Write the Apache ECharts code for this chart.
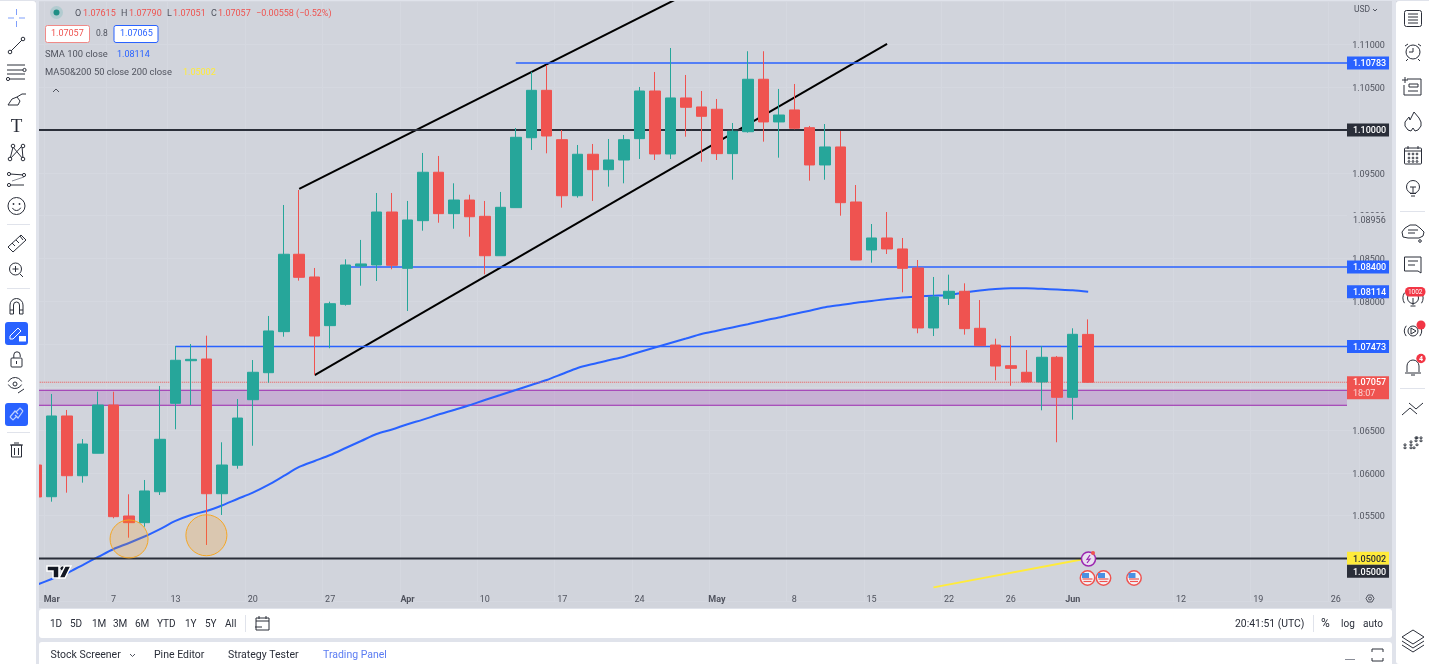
<!DOCTYPE html>
<html>
<head>
<meta charset="utf-8">
<title>EUR/USD</title>
<style>
html, body { margin: 0; padding: 0; background: #d1d4dc; overflow: hidden; }
#chart { width: 1429px; height: 664px; }
</style>
<script src="https://cdn.jsdelivr.net/npm/echarts@6/dist/echarts.min.js"></script>
</head>
<body>
<div id="chart"></div>
<script>
// trading days, one per band of the category axis
var dates = ['02-28',
    '03-01', '03-02', '03-03', '03-06', '03-07', '03-08', '03-09', '03-10', '03-13', '03-14',
    '03-15', '03-16', '03-17', '03-20', '03-21', '03-22', '03-23', '03-24', '03-27', '03-28',
    '03-29', '03-30', '03-31', '04-03', '04-04', '04-05', '04-06', '04-07', '04-10', '04-11',
    '04-12', '04-13', '04-14', '04-17', '04-18', '04-19', '04-20', '04-21', '04-24', '04-25',
    '04-26', '04-27', '04-28', '05-01', '05-02', '05-03', '05-04', '05-05', '05-08', '05-09',
    '05-10', '05-11', '05-12', '05-15', '05-16', '05-17', '05-18', '05-19', '05-22', '05-23',
    '05-24', '05-25', '05-26', '05-29', '05-30', '05-31', '06-01', '06-02', '06-05', '06-06',
    '06-07', '06-08', '06-09', '06-12', '06-13', '06-14', '06-15', '06-16', '06-19', '06-20',
    '06-21', '06-22', '06-23', '06-26', '06-27'];

var dayLabels = {
    '03-01': 'Mar', '03-07': '7', '03-13': '13', '03-20': '20', '03-27': '27', '04-03': 'Apr',
    '04-10': '10', '04-17': '17', '04-24': '24', '05-01': 'May', '05-08': '8', '05-15': '15',
    '05-22': '22', '05-26': '26', '06-01': 'Jun', '06-12': '12', '06-19': '19', '06-26': '26'
};

// open, close, low, high
var candles = [
    [1.06091, 1.05718, 1.05683, 1.06149],
    [1.05721, 1.06663, 1.05663, 1.06920], [1.06663, 1.05966, 1.05768, 1.06733],
    [1.05966, 1.06336, 1.05885, 1.06394], [1.06228, 1.06791, 1.06228, 1.06946],
    [1.06791, 1.05488, 1.05469, 1.06946], [1.05496, 1.05418, 1.05243, 1.05749],
    [1.05418, 1.05788, 1.05371, 1.05916], [1.05779, 1.06391, 1.05741, 1.07013],
    [1.06811, 1.07313, 1.06508, 1.07480], [1.07308, 1.07324, 1.06791, 1.07503],
    [1.07328, 1.05756, 1.05158, 1.07600], [1.05756, 1.06091, 1.05508, 1.06356],
    [1.06088, 1.06639, 1.06048, 1.06861], [1.06853, 1.07173, 1.06316, 1.07316],
    [1.07168, 1.07655, 1.07051, 1.07830], [1.07647, 1.08550, 1.07588, 1.09125],
    [1.08550, 1.08281, 1.08242, 1.09300], [1.08285, 1.07596, 1.07141, 1.08390],
    [1.07717, 1.07973, 1.07453, 1.07997], [1.07966, 1.08425, 1.07950, 1.08491],
    [1.08413, 1.08437, 1.08183, 1.08717], [1.08425, 1.09043, 1.08238, 1.09265],
    [1.09043, 1.08421, 1.08375, 1.09265], [1.08386, 1.08950, 1.07888, 1.09172],
    [1.08942, 1.09507, 1.08825, 1.09732], [1.09507, 1.09024, 1.08918, 1.09697],
    [1.09024, 1.09183, 1.08848, 1.09378], [1.09183, 1.08988, 1.08755, 1.09245],
    [1.08993, 1.08533, 1.08316, 1.09172], [1.08533, 1.09098, 1.08533, 1.09277],
    [1.09094, 1.09915, 1.09094, 1.10023], [1.09910, 1.10463, 1.09767, 1.10680],
    [1.10463, 1.09930, 1.09728, 1.10759], [1.09887, 1.09233, 1.09094, 1.10000],
    [1.09233, 1.09717, 1.09210, 1.09825], [1.09717, 1.09537, 1.09172, 1.09837],
    [1.09537, 1.09650, 1.09339, 1.09895], [1.09650, 1.09887, 1.09378, 1.09942],
    [1.09899, 1.10455, 1.09662, 1.10502], [1.10455, 1.09720, 1.09650, 1.10677],
    [1.09720, 1.10374, 1.09662, 1.10957], [1.10374, 1.10265, 1.09922, 1.10642],
    [1.10269, 1.10160, 1.09630, 1.10455], [1.10242, 1.09724, 1.09650, 1.10362],
    [1.09724, 1.09985, 1.09420, 1.10082], [1.09980, 1.10592, 1.09969, 1.10919],
    [1.10592, 1.10094, 1.09864, 1.10919], [1.10094, 1.10175, 1.09677, 1.10479],
    [1.10234, 1.10020, 1.10008, 1.10537], [1.10027, 1.09592, 1.09409, 1.10047],
    [1.09592, 1.09802, 1.09420, 1.10070], [1.09802, 1.09152, 1.09000, 1.09988],
    [1.09160, 1.08483, 1.08483, 1.09358], [1.08600, 1.08740, 1.08452, 1.08903],
    [1.08740, 1.08612, 1.08553, 1.09043], [1.08612, 1.08386, 1.08106, 1.08740],
    [1.08390, 1.07690, 1.07628, 1.08483], [1.07690, 1.08051, 1.07596, 1.08285],
    [1.08036, 1.08118, 1.07958, 1.08312], [1.08118, 1.07682, 1.07612, 1.08211],
    [1.07686, 1.07483, 1.07483, 1.08016], [1.07491, 1.07246, 1.07079, 1.07565],
    [1.07250, 1.07219, 1.07016, 1.07596], [1.07173, 1.07060, 1.07060, 1.07433],
    [1.07060, 1.07348, 1.06729, 1.07480], [1.07348, 1.06881, 1.06356, 1.07363],
    [1.06881, 1.07616, 1.06620, 1.07686], [1.07615, 1.07057, 1.07051, 1.07790]
];

var sma100 = [1.04691,
    1.04761, 1.04831, 1.04924, 1.05018, 1.05111, 1.05181, 1.05257, 1.05344, 1.05438, 1.05508,
    1.05554, 1.05618, 1.05694, 1.05768, 1.05858, 1.05963, 1.06068, 1.06138, 1.06208, 1.06289,
    1.06371, 1.06453, 1.06505, 1.06567, 1.06620, 1.06680, 1.06733, 1.06788, 1.06850, 1.06908,
    1.06966, 1.07025, 1.07083, 1.07153, 1.07223, 1.07270, 1.07313, 1.07355, 1.07410, 1.07462,
    1.07515, 1.07567, 1.07620, 1.07658, 1.07696, 1.07734, 1.07775, 1.07812, 1.07853, 1.07892,
    1.07931, 1.07958, 1.07984, 1.08005, 1.08028, 1.08046, 1.08057, 1.08067, 1.08075, 1.08104,
    1.08127, 1.08145, 1.08153, 1.08153, 1.08147, 1.08139, 1.08130, 1.08114];

// [first day, price] of each horizontal level, all run to the last day
var blueLevels = [['04-12', 1.10783], ['03-28', 1.08400], ['03-13', 1.07473]];
var blackLevels = [['02-28', 1.10000], ['02-28', 1.05000]];
var lastClose = 1.07057;
var zoneTop = 1.06963;
var zoneBottom = 1.06788;

var channelUpper = [['03-23', 1.09312], ['04-27', 1.11584]];
var channelLower = [['03-24', 1.07141], ['05-16', 1.11004]];
var maCross = [['05-19', 1.04663], ['06-02', 1.05002]];
var circleMarks = [['03-08', 1.05228], ['03-15', 1.05271]];

var tagPrices = [1.10783, 1.10000, 1.08956, 1.08400, 1.08114, 1.07473, 1.07057, 1.05002, 1.05000];
var tagTexts = ['1.10783', '1.10000', '1.08956', '1.08400', '1.08114', '1.07473', '1.07057', '1.05002', '1.05000'];

var FONT = 'Roboto, "Noto Sans", sans-serif';
var PANE = '#d1d4dc';
var INK = '#2a2e39';
var BLUE = '#2962ff';
var RED = '#ef5350';
var GREEN = '#26a69a';
var PANE_END = 1347;

var chart = echarts.init(document.getElementById('chart'));

function levelSeries(level, color, width, type) {
    return {
        type: 'line', z: 3, silent: true, symbol: 'none', animation: false,
        data: [[level[0], level[1]], [dates[dates.length - 1], level[1]]],
        lineStyle: { color: color, width: width, type: type || 'solid' }
    };
}
function pathSeries(points, color, width, smooth) {
    return {
        type: 'line', z: 3, silent: true, symbol: 'none', animation: false, smooth: smooth || false,
        data: points, lineStyle: { color: color, width: width }
    };
}

// price tags on the scale
function renderTag(params, api) {
    var i = params.dataIndex;
    var y = api.coord([0, api.value(1)])[1];
    var label = tagTexts[i];
    var bg = BLUE, fg = '#fff', h = 13, weight = '500 ';
    if (label == '1.10000' || label == '1.05000') bg = '#2a2e39';
    if (label == '1.05002') { bg = '#ffeb3b'; fg = '#2a2e39'; }
    if (label == '1.08956') { bg = PANE; fg = '#50535e'; weight = ''; }
    if (label == '1.05000') y += 12.8;
    var kids = [];
    if (label == '1.07057') {
        kids.push({ type: 'rect', shape: { x: PANE_END, y: y - 6, width: 42, height: 23 }, style: { fill: RED } });
        kids.push({ type: 'text', style: { x: 1353, y: y + 12, text: '18:07', fill: '#fbd5d4', font: '9px ' + FONT, verticalAlign: 'middle' } });
    } else {
        kids.push({ type: 'rect', shape: { x: PANE_END, y: y - h / 2, width: 42, height: h }, style: { fill: bg } });
    }
    kids.push({ type: 'text', style: { x: 1353, y: y + 1, text: label, fill: fg, font: weight + '9px ' + FONT, verticalAlign: 'middle' } });
    return { type: 'group', children: kids };
}

// purple zone, stops where the scale begins
function renderZone(params, api) {
    var y1 = api.coord([0, api.value(1)])[1];
    var y2 = api.coord([0, api.value(2)])[1];
    return {
        type: 'group',
        children: [
            { type: 'rect', shape: { x: 39, y: y1, width: PANE_END - 39, height: y2 - y1 }, style: { fill: 'rgba(156,39,176,0.2)' } },
            { type: 'line', shape: { x1: 39, y1: y1, x2: PANE_END, y2: y1 }, style: { stroke: '#9c27b0', lineWidth: 1 } },
            { type: 'line', shape: { x1: 39, y1: y2, x2: PANE_END, y2: y2 }, style: { stroke: '#9c27b0', lineWidth: 1 } }
        ]
    };
}

/* toolbars and other screen furniture */
var ui = [];
function rect(x, y, w, h, fill, stroke, r, lw) {
    ui.push({ type: 'rect', shape: { x: x, y: y, width: w, height: h, r: r || 0 }, style: { fill: fill || 'none', stroke: stroke || null, lineWidth: lw || 1 } });
}
function line(x1, y1, x2, y2, color, lw) {
    ui.push({ type: 'line', shape: { x1: x1, y1: y1, x2: x2, y2: y2 }, style: { stroke: color || INK, lineWidth: lw || 1 } });
}
function poly(points, color, lw, fill) {
    ui.push({ type: fill ? 'polygon' : 'polyline', shape: { points: points }, style: { stroke: color || INK, lineWidth: lw || 1, fill: fill || 'none' } });
}
function circle(cx, cy, r, fill, stroke, lw) {
    ui.push({ type: 'circle', shape: { cx: cx, cy: cy, r: r }, style: { fill: fill || 'none', stroke: stroke || null, lineWidth: lw || 1 } });
}
function arc(cx, cy, r, a, b, color, lw) {
    ui.push({ type: 'arc', shape: { cx: cx, cy: cy, r: r, startAngle: a, endAngle: b }, style: { stroke: color || INK, lineWidth: lw || 1, fill: 'none' } });
}
function text(x, y, str, color, size, align, weight, family) {
    ui.push({
        type: 'text',
        style: { x: x, y: y, text: str, fill: color || INK, font: (weight || 'normal') + ' ' + (size || 9) + 'px ' + (family || FONT), align: align || 'left', verticalAlign: 'middle' }
    });
}

// legend over the pane
circle(56.5, 12.5, 6.5, 'rgba(38,166,154,0.18)');
circle(56.5, 12.5, 3, '#1f8f85');
var ohlcRow = [[75, 'O', '#50535e'], [83, '1.07615', RED], [121, 'H', '#50535e'], [129, '1.07790', RED],
    [167, 'L', '#50535e'], [173, '1.07051', RED], [211, 'C', '#50535e'], [218, '1.07057', RED],
    [256, '\u22120.00558 (\u22120.52%)', RED]];
ohlcRow.forEach(function (c) { text(c[0], 13.5, c[1], c[2], 9); });
rect(45.5, 25.5, 44, 17, '#fff', '#f08a88', 2);
text(51, 34, '1.07057', RED, 9);
text(96, 33.5, '0.8', '#50535e', 8.5);
rect(114, 25.5, 44, 17, '#fff', BLUE, 2);
text(120, 34, '1.07065', BLUE, 9);
text(45, 54.5, 'SMA 100 close', '#50535e', 9.4);
text(117, 54.5, '1.08114', BLUE, 9);
text(45, 72.5, 'MA50&200 50 close 200 close', '#50535e', 9.4);
text(183, 72.5, '1.05002', '#ffeb3b', 9);
poly([[53, 92], [56, 89], [59, 92]], '#50535e', 1);

// scale header and logo
text(1354, 10, 'USD', '#50535e', 8.5);
poly([[1373, 9], [1375, 11], [1377, 9]], '#50535e', 1);
poly([[1366, 598.5], [1368, 595], [1372, 595], [1374, 598.5], [1372, 602], [1368, 602], [1366, 598.5]], '#50535e', 1);
circle(1370, 598.5, 1.5, null, '#50535e', 1);
poly([[47, 566], [59, 566], [59, 578], [53, 578], [53, 571], [47, 571]], '#fff', 1.5, '#131722');
circle(62.5, 568.5, 2.6, '#131722', '#fff', 1);
poly([[65, 566], [71, 566], [65, 578], [59, 578]], '#fff', 1.5, '#131722');

// events on the time line
circle(1088.5, 559, 7, '#e8e0f0', '#9c27b0', 1.5);
poly([[1090, 555], [1087, 559.5], [1090, 559], [1087, 563]], '#9c27b0', 1.2);
circle(1093, 553, 2, RED);
[1087.5, 1103.5, 1134].forEach(function (x) {
    circle(x, 578, 7.2, '#f3f4f8', RED, 1.5);
    rect(x - 5.5, 573, 7, 5, '#4a90e2');
    line(x - 5, 579, x + 5, 579, RED, 1.2);
    line(x - 4, 581.5, x + 4, 581.5, RED, 1.2);
});

// gaps between the panels
rect(0, 608, 1429, 56, '#e0e3eb');
rect(36, 0, 3, 608, '#e0e3eb');
rect(1392, 0, 4, 608, '#e0e3eb');
rect(0, 0, 1429, 1, '#e0e3eb');

// left toolbar
rect(0, 1, 36, 663, '#fff', null, [0, 3, 0, 0]);
var ICON_BLUE = '#7f9ffb';
var LINK_BLUE = '#bcd0ff';
line(16.5, 9, 16.5, 15, ICON_BLUE, 1); line(16.5, 21, 16.5, 27, ICON_BLUE, 1);
line(8, 18, 14, 18, ICON_BLUE, 1); line(19, 18, 25, 18, ICON_BLUE, 1);
line(11, 51, 22, 40); circle(10, 52, 1.8, '#fff', INK); circle(23, 39, 1.8, '#fff', INK);
line(7, 65, 25, 65); line(7, 70, 23, 70); circle(24.5, 70, 1.6, '#fff', INK); line(7, 74, 25, 74); line(9, 79, 25, 79); circle(8, 79, 1.6, '#fff', INK);
poly([[8, 105], [12, 99], [17, 97], [20, 101], [18, 105], [8, 105]]); poly([[17, 97], [22, 94], [26, 94]]);
text(16.5, 127, 'T', INK, 19, 'center', 'normal', '"Liberation Serif", serif');
poly([[10, 159], [13, 147], [23, 159], [22, 146], [10, 159]]); circle(13, 146, 1.8, '#fff', INK); circle(23, 146, 1.8, '#fff', INK); circle(10, 159, 1.8, '#fff', INK); circle(23, 159, 1.8, '#fff', INK);
line(10, 174, 24, 175); line(10, 185, 24, 185); line(12, 181, 24, 177, '#8a8d97'); circle(9, 174, 1.6, '#fff', INK); circle(24, 175, 1.6, '#fff', INK); circle(9, 185, 1.6, '#fff', INK);
circle(16.5, 206, 8.5, null, INK); circle(13.5, 204, 0.9, INK); circle(19.5, 204, 0.9, INK); arc(16.5, 206, 4.5, 0.4, 2.7);
line(7, 224.5, 30, 224.5, '#e0e3eb');
poly([[8, 247], [21, 235], [26, 240], [13, 252], [8, 247]], INK, 1); line(12, 243, 15, 246); line(16, 240, 19, 243); line(20, 236, 23, 240);
circle(15.5, 269, 6, null, INK); line(12.5, 269, 18.5, 269); line(15.5, 266, 15.5, 272); line(20, 274, 23, 277);
line(7, 288.5, 30, 288.5, '#e0e3eb');
arc(16.5, 305, 6.5, 3.14, 6.28); arc(16.5, 305, 3, 3.14, 6.28); line(10, 305, 10, 314); line(23, 305, 23, 314); line(13.5, 305, 13.5, 314); line(19.5, 305, 19.5, 314); line(10, 310, 13.5, 310); line(19.5, 310, 23, 310); line(10, 314, 13.5, 314); line(19.5, 314, 23, 314);
rect(5, 322, 23, 23, BLUE, null, 3);
poly([[10, 336], [18, 328], [21, 331], [13, 339], [10, 339], [10, 336]], '#fff', 1); rect(19, 336, 7, 5.5, '#fff');
rect(11, 358, 11, 9, null, INK, 1); arc(17, 355, 3.2, 3.14, 6.28); line(13.8, 355, 13.8, 358); line(20.2, 355, 20.2, 357); line(16.5, 361, 16.5, 364);
arc(15, 385, 7.5, 3.6, 5.8); arc(15, 381, 7.5, 0.5, 2.65); circle(15, 384, 2, null, INK); line(18, 393, 24, 389);
rect(5, 403, 23, 23, BLUE, null, 3);
poly([[10, 417], [15, 411], [18, 414]], LINK_BLUE, 1.2); poly([[23, 411], [18, 418], [15, 415]], LINK_BLUE, 1.2); poly([[10, 417], [13, 420], [17, 416]], LINK_BLUE, 1.2); poly([[23, 411], [20, 408], [16, 412]], LINK_BLUE, 1.2);
line(7, 432.5, 30, 432.5, '#e0e3eb');
line(10, 445, 23, 445); rect(11.5, 445, 10, 12, null, INK); line(14.5, 448, 14.5, 455); line(18.5, 448, 18.5, 455); line(14, 443, 19, 443);

// right toolbar
rect(1396, 1, 33, 663, '#fff', null, [3, 0, 0, 3]);
rect(1404.5, 10.5, 17, 16, null, INK, 2); line(1408, 14, 1418, 14); line(1408, 17, 1418, 17); line(1408, 20, 1418, 20); line(1408, 23, 1418, 23);
circle(1413, 52, 7, null, INK); poly([[1413, 48], [1413, 52], [1409, 52]]); line(1405, 46, 1408, 44); line(1418, 44, 1421, 46); line(1408, 59, 1406, 61); line(1418, 59, 1420, 61);
line(1402, 80, 1408, 80); line(1405, 77, 1405, 83); poly([[1407, 79], [1421, 79], [1421, 95], [1404, 95], [1404, 85]]); rect(1409, 84, 9, 3, null, INK); line(1408, 91, 1418, 91);
poly([[1414, 112], [1419, 118], [1421, 122], [1421, 126], [1418, 130], [1415, 131], [1413, 128], [1411, 131], [1408, 130], [1405, 126], [1405, 122], [1409, 117], [1410, 120], [1414, 112]]);
rect(1404.5, 148, 17, 16, null, INK, 1); line(1404.5, 151, 1421.5, 151); line(1408, 146, 1408, 149); line(1418, 146, 1418, 149); [1409, 1413, 1417].forEach(function (x) { circle(x, 154, 0.9, null, INK); circle(x, 158, 0.9, null, INK); circle(x, 161.5, 0.9, null, INK); });
circle(1413, 187, 6.5, null, INK); line(1411, 196, 1415, 196); line(1410, 193.5, 1416, 193.5); line(1413, 187, 1413, 193); line(1410, 187, 1416, 187);
line(1400, 211.5, 1425, 211.5, '#e0e3eb');
poly([[1408, 238], [1403, 237], [1402, 232], [1405, 228], [1410, 225], [1416, 225], [1420, 228], [1424, 232], [1423, 236], [1419, 238], [1408, 238]]); line(1408, 230, 1418, 230); line(1408, 233, 1415, 233); circle(1420, 241, 1.3, null, INK);
poly([[1404.5, 257], [1421, 257], [1421, 273], [1418, 271], [1404.5, 271], [1404.5, 257]]); line(1408, 261, 1418, 261); line(1408, 265, 1415, 265);
circle(1413, 298, 5.5, null, INK); line(1410.5, 306, 1415.5, 306); line(1413, 298, 1413, 305); arc(1413, 298, 10, 2.6, 3.7); arc(1413, 298, 10, -0.55, 0.55);
rect(1405, 287, 20.5, 9.5, '#f23645', null, 4.5); text(1415.2, 292, '1002', '#fff', 6.5, 'center');
circle(1413, 331, 5, null, INK); poly([[1411, 328], [1416, 331], [1411, 334], [1411, 328]]); arc(1413, 331, 8.5, 2.5, 3.8); arc(1413, 331, 8.5, -0.65, 0.65); circle(1421, 325, 4.5, '#f23645');
arc(1413, 366, 6, 3.14, 6.28); line(1407, 366, 1407, 372); line(1419, 366, 1419, 372); line(1405, 373, 1421, 373); line(1411, 375, 1415, 375);
circle(1421, 358.5, 4.7, '#f23645'); text(1421, 358.8, '4', '#fff', 7, 'center', 'bold');
line(1400, 388.5, 1425, 388.5, '#e0e3eb');
poly([[1402, 415], [1410, 408], [1417, 414]]); poly([[1409, 403], [1416, 409], [1423, 403]]);
[[1404, 447], [1404, 444], [1410, 444], [1410, 447], [1410, 441], [1413, 447], [1416, 444], [1416, 437], [1420, 437], [1420, 440], [1415, 437], [1415, 440]].forEach(function (d) { rect(d[0], d[1], 2, 1.6, null, INK, 0, 0.8); });
poly([[1413, 630], [1424, 637], [1413, 644], [1402, 637], [1413, 630]]); poly([[1402, 641], [1413, 648], [1424, 641]]); poly([[1402, 645], [1413, 652], [1424, 645]]);

// range bar under the chart
rect(39, 609, 1353, 29, '#fff', null, 3);
[[50, '1D'], [70, '5D'], [92, '1M'], [113, '3M'], [135, '6M'], [157, 'YTD'], [185, '1Y'], [205, '5Y'], [225, 'All']].forEach(function (b) {
    text(b[0], 624, b[1], INK, 10);
});
line(245.5, 615, 245.5, 632, '#e0e3eb');
rect(256, 618, 13, 12, null, INK, 0); line(256, 621, 269, 621); line(259, 616, 259, 619); line(266, 616, 266, 619); poly([[255, 627], [262, 627]]);
text(1235, 624, '20:41:51 (UTC)', INK, 10.4);
line(1313.5, 615, 1313.5, 632, '#e0e3eb');
text(1321, 624, '%', INK, 12);
text(1341, 624, 'log', INK, 10);
text(1363, 624, 'auto', INK, 10);

// tabs at the very bottom
rect(39, 642, 1353, 22, '#fff', null, [3, 3, 0, 0]);
text(50.5, 655, 'Stock Screener', INK, 10.5);
poly([[130, 654], [132.5, 656.5], [135, 654]], '#50535e');
text(154, 655, 'Pine Editor', INK, 10.5);
text(228, 655, 'Strategy Tester', INK, 10.5);
text(323, 655, 'Trading Panel', '#5b7cf2', 10.5);
line(1345, 659.5, 1355, 659.5, '#8a8d97');
poly([[1372, 652], [1372, 649], [1383, 649], [1383, 652]]); poly([[1372, 658], [1372, 661], [1383, 661], [1383, 658]]);

var series = [
    { type: 'custom', z: 1, silent: true, animation: false, renderItem: renderZone, data: [[0, zoneTop, zoneBottom]], encode: { x: 0, y: [1, 2] } },
    pathSeries(sma100.map(function (v, i) { return [dates[i], v]; }), BLUE, 2, 0.3),
    pathSeries(maCross, '#ffeb3b', 2),
    pathSeries(channelUpper, '#000', 2),
    pathSeries(channelLower, '#000', 2),
    levelSeries(['02-28', lastClose], RED, 1, 'dotted')
];
blueLevels.forEach(function (l) { series.push(levelSeries(l, BLUE, 1.5)); });
blackLevels.forEach(function (l) { series.push(levelSeries(l, INK, 2)); });
series.push({
    type: 'candlestick', z: 5, silent: true, animation: false, barWidth: 11,
    data: candles,
    itemStyle: { color: GREEN, color0: RED, borderColor: GREEN, borderColor0: RED, borderWidth: 1 }
});
series.push({
    type: 'scatter', z: 6, silent: true, animation: false,
    data: circleMarks,
    symbolSize: function (v, p) { return p.dataIndex == 0 ? 38 : 41; },
    itemStyle: { color: 'rgba(255,152,0,0.2)', borderColor: '#f5a623', borderWidth: 1, opacity: 1 }
});
series.push({
    type: 'custom', z: 10, silent: true, animation: false, clip: false, renderItem: renderTag,
    data: tagPrices.map(function (p) { return [0, p]; }), encode: { x: 0, y: 1 }
});

chart.setOption({
    animation: false,
    backgroundColor: PANE,
    textStyle: { fontFamily: FONT },
    grid: { left: 28.5, top: 1.45, width: 1330.4, height: 599.9 },
    xAxis: {
        type: 'category', data: dates, boundaryGap: true,
        axisLine: { show: false }, axisTick: { show: false },
        splitLine: { show: true, interval: function (i, v) { return !!dayLabels[v]; }, lineStyle: { color: '#d5d8e0', width: 1 } },
        axisLabel: {
            inside: true, margin: -3, color: '#50535e', fontSize: 9, hideOverlap: false,
            interval: function (i, v) { return !!dayLabels[v]; },
            formatter: function (v) {
                var s = dayLabels[v] || '';
                return isNaN(s) ? '{m|' + s + '}' : s;
            },
            rich: { m: { fontWeight: 'bold', fontSize: 9, color: '#50535e' } }
        }
    },
    yAxis: {
        type: 'value', position: 'right', min: 1.045, max: 1.115, interval: 0.005, scale: true,
        axisLine: { show: false }, axisTick: { show: false },
        splitLine: { show: true, lineStyle: { color: '#d5d8e0', width: 1 } },
        axisLabel: {
            align: 'right', verticalAlign: 'top', margin: 26, color: '#50535e', fontSize: 9, padding: [-3, 0, 0, 0],
            formatter: function (v) { return (v <= 1.045 || v >= 1.115) ? '' : v.toFixed(5); }
        }
    },
    // z above the series: the toolbars must hide what the pane clips out
    graphic: { elements: ui.map(function (el) { el.silent = true; el.z = 100; return el; }) },
    series: series
});
</script>
</body>
</html>
